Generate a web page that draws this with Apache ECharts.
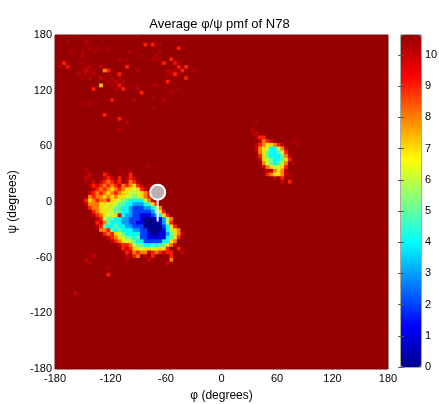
<!DOCTYPE html>
<html>
<head>
<meta charset="utf-8">
<script src="https://cdn.jsdelivr.net/npm/echarts/dist/echarts.min.js"></script>
<style>
html, body { margin: 0; padding: 0; background: #fff; }
#main { width: 439px; height: 404px; }
</style>
</head>
<body>
<div id="main"></div>
<script>
/* phi/psi free energy map, 4 degree bins */
var BIN = 4;
var VMAX = 10.64;              // empty bins sit at the top of the scale

// one letter per bin: '.' empty, b / a faint, 0-9 the pmf value
var codeValue = { '.': VMAX, b: 10.3, a: 10 };

// basin around phi -70, psi -30 (rows run from psi 36 downward, first column phi -152)
var alphaPhi0 = -152;
var alphaPsiTop = 36;
var alphaRows = [
  "..................b",
  ".b........b..b",
  "..a...9a...b.9",
  ".ab...a9a.9.b9a",
  ".b.a.a989a9.a89b",
  "..b9a98989a89879a.b",
  "...a9898789877679a",
  "..a9898789877666789a",
  "..89887878776656789a",
  ".978988977655444468a",
  ".a8887767655443334579",
  "..98876765544322233468",
  "...98776655443222223579",
  "...a987667a4332211123479",
  "....a96554433222100011368",
  "....9a8544433221100001369",
  "....a954454433222000002479",
  ".....8895454443322000014678",
  "......989765444422100113578a",
  ".......a9876554522111114579",
  "........a98766544222224478",
  "..........a99865544545578a",
  "...........9a97767767779..9",
  "............9a8988a989a99..a",
  "...a........a.98.a.9....9",
  ".a..........b.....a.....8",
  "..b....................a",
  ".......b",
  "",
  ".......9"
];

// basin around phi 55, psi 45 (rows from psi 84 downward, first column phi 28)
var leftPhi0 = 28;
var leftPsiTop = 84;
var leftRows = [
  "..b",
  "",
  ".b",
  ".ba",
  "..b99",
  "...a89a.....b",
  "..b987789a...b",
  "..a8764468a",
  "..b87544569",
  "...97544458a",
  "...a76544579",
  "....8654568.b",
  "....a876679",
  ".....ab878a",
  ".....98778ab",
  ".......a.9.b",
  ".........a.9"
];

// scattered bins: [phi, psi, pmf]
var sparseBins = [
  [-168,172,10.3],[-148,172,10.3],[-148,168,10.3],[-144,164,10.3],[-136,164,10.3],
  [-124,164,10.3],[-164,160,10.3],[-152,160,10.3],[-140,160,10.3],[-172,148,9],
  [-168,144,9.2],[-176,144,10.3],[-152,148,10.3],[-148,144,10.3],[-144,144,10.2],
  [-152,140,10.3],[-148,140,10],[-140,140,10.3],[-156,136,10.3],[-148,136,10.3],
  [-140,136,10.2],[-144,132,10.3],[-152,132,10.3],[-128,140,8],[-124,140,9],
  [-132,144,10],[-132,132,10],[-132,124,7.2],[-140,120,9],[-124,136,10.3],
  [-120,132,10.3],[-116,128,10],[-120,124,10.3],[-116,120,10.3],[-112,132,10.3],
  [-124,128,10.3],[-108,128,10.3],[-112,136,9],[-104,144,9],[-108,120,9],
  [-112,124,9.2],[-120,108,9.2],[-128,92,9],[-112,88,9],[-104,84,10],
  [-112,76,10.3],[-152,104,10.3],[-144,104,10.3],[-96,108,10.3],[-100,160,10.3],
  [-104,152,10.3],[-152,156,10.3],[-112,152,10.3],
  [-84,168,9],[-76,168,9],[-92,176,10.3],[-68,168,10.3],[-48,164,9],
  [-88,156,10.3],[-72,156,10.3],[-68,160,10.3],[-76,152,10.3],[-72,152,10.3],
  [-68,152,10.3],[-64,148,9],[-56,152,9],[-52,148,9.2],[-48,144,9],[-40,144,9],
  [-44,140,9],[-52,136,9],[-40,132,9],[-60,128,9],[-32,140,10.3],[-60,140,10.3],
  [-56,140,10.3],[-52,140,10.2],[-56,136,10.3],[-48,136,10.3],[-60,136,10.3],
  [-88,116,9],[-92,124,10.3],[-92,120,10.3],[-76,124,10.3],[-72,124,10.3],
  [-48,120,10.3],[-56,116,10.3],[-64,108,10.3],[-76,112,10.3],[-76,100,10.3],
  [-92,140,10.3],
  [-160,-100,10]
];

// average structure marker: circle and its stem
var markerTop = [-69, 10.5];
var markerStem = [-69, -21];

var JET = ['#00008f', '#0000ff', '#0080ff', '#00ffff', '#80ff80',
           '#ffff00', '#ff8000', '#ff0000', '#960000'];
var FONT = 'Liberation Sans';

(function () {
  var nBins = 360 / BIN;
  var pmf = [];
  var cats = [];
  for (var i = 0; i < nBins; i++) {
    cats.push(String(i));
    pmf.push([]);
    for (var j = 0; j < nBins; j++) pmf[i].push(VMAX);
  }

  function paint(phi0, psiTop, rows) {
    var i0 = (phi0 + 180) / BIN, jTop = (psiTop + 180) / BIN;
    rows.forEach(function (row, r) {
      for (var k = 0; k < row.length; k++) {
        var ch = row.charAt(k);
        if (ch === '.') continue;
        pmf[i0 + k][jTop - r] = (ch in codeValue) ? codeValue[ch] : +ch;
      }
    });
  }
  paint(alphaPhi0, alphaPsiTop, alphaRows);
  paint(leftPhi0, leftPsiTop, leftRows);
  sparseBins.forEach(function (s) {
    pmf[(s[0] + 180) / BIN][(s[1] + 180) / BIN] = s[2];
  });

  var cells = [];
  for (var i = 0; i < nBins; i++)
    for (var j = 0; j < nBins; j++) cells.push([i, j, pmf[i][j]]);

  var myChart = echarts.init(document.getElementById('main'));
  var option = {
    animation: false,
    textStyle: { fontFamily: FONT },
    title: {
      text: 'Average φ/ψ pmf of N78',
      left: 'center',
      top: 13,
      textStyle: { fontSize: 13, fontWeight: 'normal', color: '#000', fontFamily: FONT }
    },
    grid: [
      { left: 55, top: 35, width: 333, height: 334, show: true, outerBoundsMode: 'none',
        borderColor: '#777', borderWidth: 1, backgroundColor: '#960000' },
      { left: 401, top: 35, width: 20, height: 332, show: true, outerBoundsMode: 'none',
        borderColor: '#555', borderWidth: 1, backgroundColor: 'transparent' }
    ],
    xAxis: [
      { type: 'category', gridIndex: 0, data: cats, show: false },
      { type: 'value', gridIndex: 0, min: -180, max: 180, interval: 60,
        position: 'bottom',
        axisLine: { show: false }, axisTick: { show: false }, splitLine: { show: false },
        axisLabel: { fontSize: 11, color: '#000', margin: 4 },
        name: 'φ (degrees)', nameLocation: 'middle', nameGap: 21,
        nameTextStyle: { fontSize: 12, color: '#000' } },
      { type: 'value', gridIndex: 1, min: 0, max: 1, show: false }
    ],
    yAxis: [
      { type: 'category', gridIndex: 0, data: cats, show: false },
      { type: 'value', gridIndex: 0, min: -180, max: 180, interval: 60,
        position: 'left',
        axisLine: { show: false }, axisTick: { show: false }, splitLine: { show: false },
        axisLabel: { fontSize: 11, color: '#000', margin: 3 },
        name: 'ψ (degrees)', nameLocation: 'middle', nameGap: 28, nameRotate: 90,
        nameTextStyle: { fontSize: 12, color: '#000' } },
      { type: 'value', gridIndex: 1, min: 0, max: VMAX, interval: 1, position: 'right', z: 10,
        axisLine: { show: false }, splitLine: { show: false },
        axisTick: { show: true, inside: true, length: 3, lineStyle: { color: '#555' } },
        axisLabel: { fontSize: 11, color: '#000', margin: 4, showMaxLabel: false } },
      { type: 'value', gridIndex: 1, min: 0, max: VMAX, interval: 1, position: 'left', z: 10,
        axisLine: { show: false }, splitLine: { show: false }, axisLabel: { show: false },
        axisTick: { show: true, inside: true, length: 3, lineStyle: { color: '#555' } } }
    ],
    visualMap: {
      type: 'continuous',
      min: 0, max: VMAX,
      seriesIndex: 0, dimension: 2,
      calculable: false, hoverLink: false,
      left: 401, top: 35, padding: 0, align: 'left',
      itemWidth: 20, itemHeight: 332,
      text: null, showLabel: false,
      inRange: { color: JET }
    },
    series: [
      { type: 'heatmap', xAxisIndex: 0, yAxisIndex: 0, data: cells,
        progressive: 0, emphasis: { disabled: true } },
      { type: 'line', xAxisIndex: 1, yAxisIndex: 1, data: [markerTop, markerStem],
        symbol: 'none', silent: true, z: 5,
        lineStyle: { color: '#ffffff', width: 2 } },
      { type: 'scatter', xAxisIndex: 1, yAxisIndex: 1, data: [markerTop],
        symbolSize: 15, silent: true, z: 6,
        itemStyle: { color: '#bcaeae', borderColor: '#ffffff', borderWidth: 2, opacity: 1 } }
    ]
  };
  myChart.setOption(option);
})();
</script>
</body>
</html>
